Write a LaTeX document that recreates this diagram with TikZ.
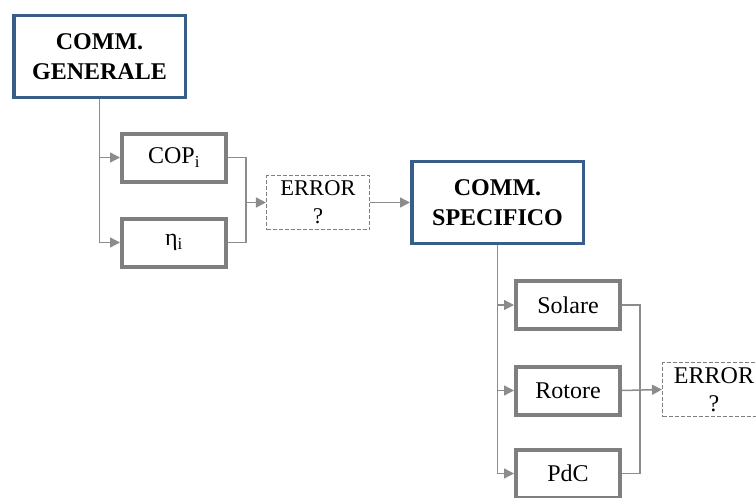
\documentclass[tikz,border=0pt]{standalone}
\usepackage{fontspec}
\setmainfont{LiberationSerif-Regular.ttf}[BoldFont=LiberationSerif-Bold.ttf]
\usetikzlibrary{arrows.meta}
\definecolor{titleblue}{RGB}{56,93,138}
\definecolor{boxgray}{RGB}{127,127,127}
\definecolor{linegray}{RGB}{140,140,140}

\begin{document}
\begin{tikzpicture}[x=1pt,y=-1pt,
  title/.style={draw=titleblue, line width=3.5pt, fill=white, minimum width=171.5pt,
    minimum height=82pt, align=center, inner sep=0pt,
    font=\fontsize{24}{30}\selectfont\bfseries},
  item/.style={draw=boxgray, line width=4pt, fill=white, minimum width=104pt,
    minimum height=48pt, inner sep=0pt, font=\fontsize{24}{28}\selectfont},
  errbox/.style={draw=boxgray, line width=1.1pt, dash pattern=on 4pt off 2pt,
    fill=white, align=center, minimum width=103pt, minimum height=54pt, inner sep=0pt},
  link/.style={draw=linegray, line width=1.5pt},
  flow/.style={link, -{Triangle[length=10pt,width=10pt]}}
]
\useasboundingbox (0,0) rectangle (756,498);
\clip (0,0) rectangle (756,498);

% general command and its two checks
\node[title] (gen) at (99.5,56.5) {COMM.\\GENERALE};
\node[item] (cop) at (174,157.5) {COP\textsubscript{i}};
\node[item] (eta) at (174,242.5) {η\textsubscript{i}};
\node[errbox, font=\fontsize{22.5}{28}\selectfont] (err1) at (318,202.5) {ERROR\\?};

% specific command and its three sub-checks
\node[title] (spec) at (497.5,202.5) {COMM.\\SPECIFICO};
\node[item] (sol) at (568,305) {Solare};
\node[item] (rot) at (568,390.5) {Rotore};
\node[item] (pdc) at (568,473.5) {PdC};
\node[errbox, font=\fontsize{24}{28}\selectfont] (err2) at (714,389.5) {ERROR\\?};

\coordinate (m1) at (246,202.5);
\coordinate (m2) at (640,390.5);

% connectors
\draw[flow] (gen.south) |- (cop.west);
\draw[flow] (gen.south) |- (eta.west);
\draw[link] (cop.east) -| (m1) |- (eta.east);
\draw[flow] (m1) -- (err1.west);
\draw[flow] (err1.east) -- (spec.west);

\draw[flow] (spec.south) |- (sol.west);
\draw[flow] (spec.south) |- (rot.west);
\draw[flow] (spec.south) |- (pdc.west);
\draw[link] (sol.east) -| (m2) |- (pdc.east);
\draw[flow] (rot.east) -- (err2.west);
\end{tikzpicture}
\end{document}
